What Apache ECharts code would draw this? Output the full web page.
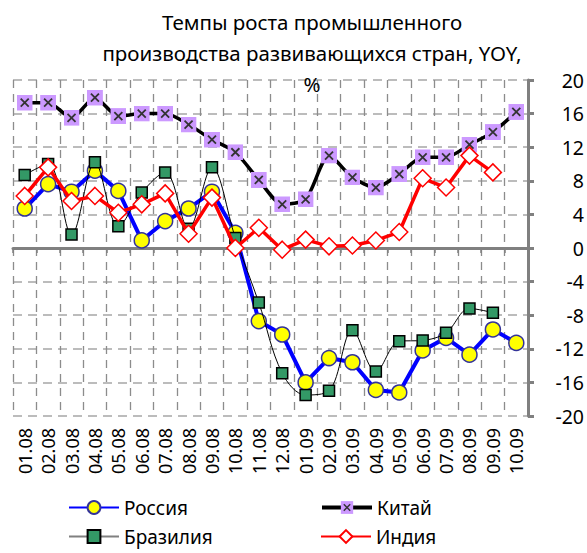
<!DOCTYPE html>
<html>
<head>
<meta charset="utf-8">
<script src="https://cdn.jsdelivr.net/npm/echarts@6/dist/echarts.min.js"></script>
<style>
  html, body { margin: 0; padding: 0; background: #fff; }
  #chart { width: 587px; height: 553px; }
</style>
</head>
<body>
<div id="chart"></div>
<script>
// месяцы
var months = ['01.08', '02.08', '03.08', '04.08', '05.08', '06.08', '07.08', '08.08', '09.08', '10.08', '11.08',
    '12.08', '01.09', '02.09', '03.09', '04.09', '05.09', '06.09', '07.09', '08.09', '09.09', '10.09'];

// темпы роста, % г/г
var russia = [4.7, 7.6, 6.7, 9.2, 6.8, 0.9, 3.2, 4.7, 6.7, 1.8, -8.7, -10.3, -16.0, -13.1, -13.6, -16.9, -17.2, -12.2, -10.7, -12.7, -9.7, -11.3];
var china = [17.3, 17.3, 15.5, 17.9, 15.7, 16.0, 16.0, 14.7, 12.9, 11.4, 8.1, 5.2, 5.8, 11.0, 8.4, 7.2, 8.8, 10.8, 10.8, 12.3, 13.8, 16.2];
var brazil = [8.7, 10.0, 1.6, 10.2, 2.6, 6.6, 9.0, 2.3, 9.6, 1.2, -6.5, -14.9, -17.5, -17.0, -9.8, -14.7, -11.1, -11.0, -10.1, -7.2, -7.7, null];
var india = [6.2, 9.6, 5.6, 6.2, 4.2, 5.2, 6.5, 1.7, 6.0, 0.0, 2.4, -0.2, 1.0, 0.2, 0.3, 0.9, 1.9, 8.3, 7.2, 11.0, 9.0, null];

var yTicks = { min: -20, max: 20, step: 4 };

var font = '"Noto Sans", "DejaVu Sans", sans-serif';

// квадрат с крестиком для Китая
var chinaSymbol = 'image://data:image/svg+xml;charset=utf-8,' + encodeURIComponent(
    '<svg xmlns="http://www.w3.org/2000/svg" width="16" height="16">' +
    '<rect width="16" height="16" fill="#CC99FF"/>' +
    '<path d="M4 4L12 12M12 4L4 12" stroke="#333" stroke-width="1.8"/></svg>');

function legendAt(name, left, top, line) {
    var lg = {
        data: [name], left: left, top: top, orient: 'horizontal', padding: 0,
        itemWidth: 50, itemHeight: 16, itemGap: 4,
        textStyle: { fontFamily: font, fontSize: 19, color: '#000' }
    };
    if (line) lg.lineStyle = line;
    return lg;
}

// canvas не рисует пунктир в этой среде, поэтому svg
var chart = echarts.init(document.getElementById('chart'), null, { renderer: 'svg' });
chart.setOption({
    animation: false,
    backgroundColor: '#fff',
    title: {
        text: 'Темпы роста промышленного\nпроизводства развивающихся стран, YOY,\n%',
        left: 307, top: 1, textAlign: 'center',
        textStyle: { fontFamily: font, fontSize: 20.5, fontWeight: 'normal', color: '#000', lineHeight: 31 }
    },
    legend: [
        legendAt('Россия', 68, 498),
        legendAt('Китай', 320, 498, { color: '#000', width: 4 }),
        legendAt('Бразилия', 68, 527, { color: '#808080', width: 2 }),
        legendAt('Индия', 320, 527)
    ],
    grid: { left: 13, right: 56, top: 80, bottom: 137 },
    xAxis: [{
        // ось на нуле
        type: 'category', data: months, boundaryGap: true,
        axisLine: { onZero: true, lineStyle: { color: '#808080', width: 3 } },
        axisTick: { show: true, interval: 0, length: 5, lineStyle: { color: '#808080', width: 1.5 } },
        axisLabel: { show: false },
        splitLine: { show: true, interval: 0, lineStyle: { color: '#8c8c8c', type: [8, 6], width: 1.3 } }
    }, {
        // подписи снизу
        type: 'category', data: months, position: 'bottom', boundaryGap: true,
        axisLine: { show: false, onZero: false }, axisTick: { show: false },
        axisLabel: { interval: 0, rotate: 90, margin: 12, fontFamily: font, fontSize: 18, color: '#000' },
        splitLine: { show: false }
    }],
    yAxis: {
        type: 'value', position: 'right',
        min: yTicks.min, max: yTicks.max, interval: yTicks.step,
        axisLine: { show: true, lineStyle: { color: '#808080', width: 3 } },
        axisTick: { show: true, inside: false, length: 6, lineStyle: { color: '#808080', width: 3 } },
        axisLabel: { margin: 56, align: 'right', fontFamily: font, fontSize: 19.5, color: '#000' },
        splitLine: { show: true, lineStyle: { color: '#a6a6a6', type: [9, 6], width: 1.6 } }
    },
    series: [{
        name: 'Россия', type: 'line', data: russia, showAllSymbol: true,
        symbol: 'circle', symbolSize: 15,
        lineStyle: { color: '#0000FF', width: 4 },
        itemStyle: { color: '#FFFF00', borderColor: '#333399', borderWidth: 1.5 },
        z: 3
    }, {
        name: 'Китай', type: 'line', data: china, smooth: 0.25, showAllSymbol: true,
        symbol: chinaSymbol, symbolSize: 16,
        lineStyle: { color: '#000', width: 3.5 },
        itemStyle: { color: '#000' },
        z: 4
    }, {
        name: 'Бразилия', type: 'line', data: brazil, smooth: 0.35, showAllSymbol: true,
        symbol: 'rect', symbolSize: 11,
        lineStyle: { color: '#000', width: 1 },
        itemStyle: { color: '#339966', borderColor: '#000', borderWidth: 1.5 },
        z: 5
    }, {
        name: 'Индия', type: 'line', data: india, showAllSymbol: true,
        symbol: 'diamond', symbolSize: 17,
        lineStyle: { color: '#FF0000', width: 3.5 },
        itemStyle: { color: '#fff', borderColor: '#FF0000', borderWidth: 1.5 },
        z: 6
    }]
});
</script>
</body>
</html>
